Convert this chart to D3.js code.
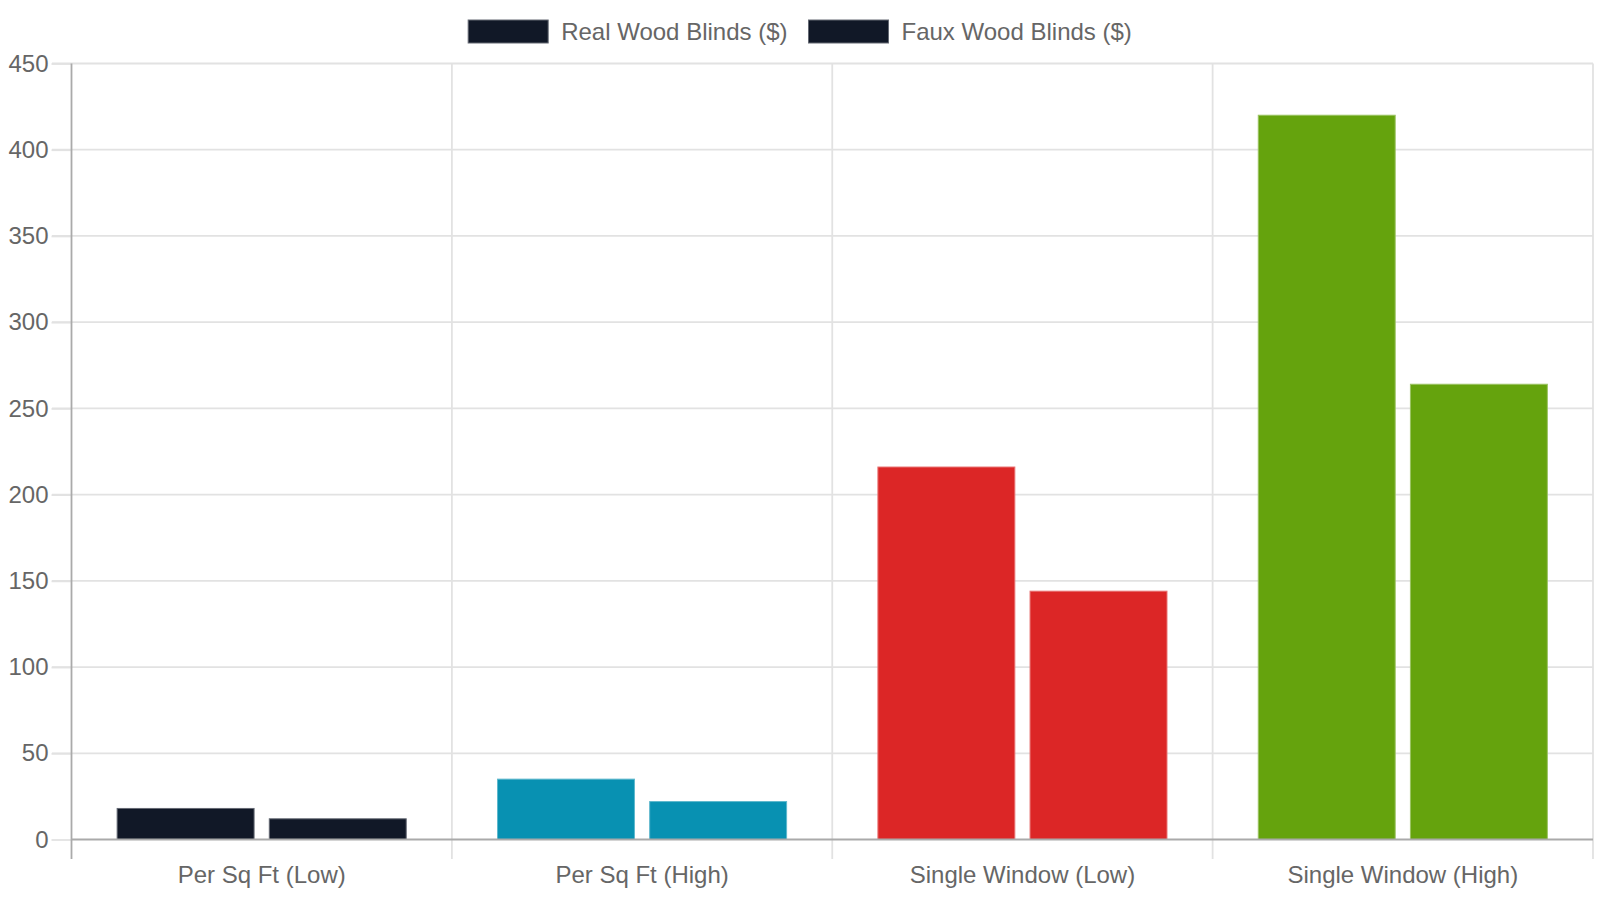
<!DOCTYPE html>
<html>
<head>
<meta charset="utf-8">
<script src="https://cdn.jsdelivr.net/npm/d3@7"></script>
<style>
  body { margin: 0; background: #fff; }
  svg { display: block; font-family: "Liberation Sans", Arial, sans-serif; }
</style>
</head>
<body>
<svg id="chart" width="1600" height="900"></svg>
<script>
    var categories = ['Per Sq Ft (Low)', 'Per Sq Ft (High)', 'Single Window (Low)', 'Single Window (High)'];
    var seriesNames = ['Real Wood Blinds ($)', 'Faux Wood Blinds ($)'];
    var realWood = [18, 35, 216, 420];
    var fauxWood = [12, 22, 144, 264];
    var barColors = ['#111827', '#0891b2', '#dc2626', '#65a30d'];
    var yTicks = [0, 50, 100, 150, 200, 250, 300, 350, 400, 450];

    var svg = d3.select('#chart');
    var plotLeft = 71.5, plotRight = 1593, plotTop = 63.5, plotBottom = 839.5;
    var textColor = '#666';
    var fontSize = '24px';

    var x = d3.scaleBand().domain(categories).range([plotLeft, plotRight]);
    var y = d3.scaleLinear().domain([0, 450]).range([plotBottom, plotTop]);

    // inner band: 80% of category, each bar 90% of its slot
    var bw = x.bandwidth();
    var xs = d3.scaleBand().domain(seriesNames).range([bw * 0.1, bw * 0.9]);

    // horizontal grid
    svg.append('g').selectAll('line')
      .data(yTicks.filter(function(d) { return d > 0; }))
      .enter().append('line')
      .attr('x1', 52).attr('x2', plotRight)
      .attr('y1', function(d) { return y(d); })
      .attr('y2', function(d) { return y(d); })
      .attr('stroke', '#e2e2e2').attr('stroke-width', 1.8);

    // vertical grid (category boundaries)
    var bounds = categories.map(function(c) { return x(c); }).concat([plotRight]);
    svg.append('g').selectAll('line')
      .data(bounds.slice(1))
      .enter().append('line')
      .attr('x1', function(d) { return d; }).attr('x2', function(d) { return d; })
      .attr('y1', plotTop).attr('y2', 859)
      .attr('stroke', '#e2e2e2').attr('stroke-width', 1.8);

    // bars
    var rows = categories.map(function(c, i) {
      return { cat: c, color: barColors[i], vals: [realWood[i], fauxWood[i]] };
    });
    var groups = svg.append('g').selectAll('g')
      .data(rows)
      .enter().append('g')
      .attr('transform', function(d) { return 'translate(' + x(d.cat) + ',0)'; });
    groups.selectAll('rect')
      .data(function(d) {
        return d.vals.map(function(v, j) { return { s: seriesNames[j], v: v, color: d.color }; });
      })
      .enter().append('rect')
      .attr('x', function(d) { return xs(d.s) + xs.bandwidth() * 0.05; })
      .attr('width', xs.bandwidth() * 0.9)
      .attr('y', function(d) { return y(d.v); })
      .attr('height', function(d) { return y(0) - y(d.v); })
      .attr('fill', function(d) { return d.color; })
      .attr('stroke', function(d) { return d3.interpolateRgb(d.color, '#fff')(0.35); })
      .attr('stroke-width', 1);

    // y axis
    var yAxis = svg.append('g')
      .attr('transform', 'translate(' + plotLeft + ',0)')
      .call(d3.axisLeft(y).tickValues(yTicks).tickSize(20).tickPadding(3));
    yAxis.select('.domain').remove();
    yAxis.selectAll('.tick line').attr('stroke', '#e2e2e2').attr('stroke-width', 1.8);
    yAxis.selectAll('.tick text')
      .attr('fill', textColor).style('font-size', fontSize)
      .style('font-family', '"Liberation Sans", Arial, sans-serif');
    yAxis.append('line')
      .attr('x1', 0).attr('x2', 0).attr('y1', plotTop).attr('y2', 859)
      .attr('stroke', '#aaa').attr('stroke-width', 1.8);

    // x axis
    var xAxis = svg.append('g')
      .attr('transform', 'translate(0,' + plotBottom + ')')
      .call(d3.axisBottom(x).tickSize(0).tickPadding(26));
    xAxis.select('.domain').remove();
    xAxis.selectAll('.tick text')
      .attr('fill', textColor).style('font-size', fontSize)
      .style('font-family', '"Liberation Sans", Arial, sans-serif');
    svg.append('line')
      .attr('x1', plotLeft).attr('x2', plotRight).attr('y1', plotBottom).attr('y2', plotBottom)
      .attr('stroke', '#aaa').attr('stroke-width', 1.8);

    // legend
    var legend = svg.append('g');
    var items = legend.selectAll('g')
      .data(seriesNames)
      .enter().append('g');
    items.append('rect')
      .attr('width', 80).attr('height', 23).attr('y', 20)
      .attr('fill', barColors[0])
      .attr('stroke', d3.interpolateRgb(barColors[0], '#fff')(0.35)).attr('stroke-width', 1);
    items.append('text')
      .attr('x', 93).attr('y', 32).attr('dy', '0.35em')
      .attr('fill', textColor).style('font-size', fontSize)
      .text(function(d) { return d; });
    var offset = 0, widths = [];
    items.each(function() {
      var w = 93 + this.querySelector('text').getComputedTextLength();
      widths.push(w);
    });
    var total = d3.sum(widths) + 21 * (widths.length - 1);
    var start = 800 - total / 2;
    items.attr('transform', function(d, i) {
      var t = 'translate(' + (start + offset) + ',0)';
      offset += widths[i] + 21;
      return t;
    });
</script>
</body>
</html>
